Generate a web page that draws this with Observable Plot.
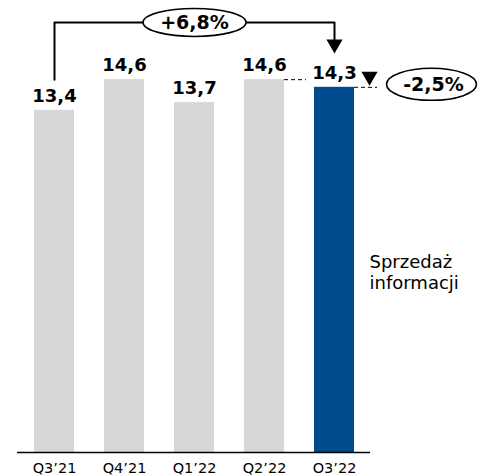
<!DOCTYPE html>
<html><head><meta charset="utf-8">
<script src="https://cdn.jsdelivr.net/npm/d3@7"></script>
<script src="https://cdn.jsdelivr.net/npm/@observablehq/plot@0.6"></script>
<style>html,body{margin:0;padding:0;background:#fff} #chart svg{display:block}</style>
</head><body><div id="chart"></div>
<script>
// ---- data ----
const quarters = ["Q3’21", "Q4’21", "Q1’22", "Q2’22", "O3’22"];
const sales = [13.4, 14.6, 13.7, 14.6, 14.3];
const highlighted = [false, false, false, false, true];
const seriesName = ["Sprzedaż\ninformacji"];
const yoyChange = ["+6,8%"];
const qoqChange = ["-2,5%"];

const table = quarters.map((q, i) => ({q, v: sales[i], hi: highlighted[i]}));
const fmt = v => v.toFixed(1).replace(".", ",");
const first = quarters[0], last = quarters[quarters.length - 1], prev = quarters[quarters.length - 2], mid = quarters[2];
const lastV = sales[sales.length - 1], prevV = sales[sales.length - 2];

// annotation levels (data units)
const yTop = 17.7;
const bracketStart = d3.max(sales);
const bracketLevel = 16.84;
const arrowCenter = 15.99;

const ellipse = (rx, ry) => ({
  draw(ctx) {
    const k = 0.5523;
    ctx.moveTo(rx, 0);
    ctx.bezierCurveTo(rx, ry * k, rx * k, ry, 0, ry);
    ctx.bezierCurveTo(-rx * k, ry, -rx, ry * k, -rx, 0);
    ctx.bezierCurveTo(-rx, -ry * k, -rx * k, -ry, 0, -ry);
    ctx.bezierCurveTo(rx * k, -ry, rx, -ry * k, rx, 0);
    ctx.closePath();
  }
});

const font = "DejaVu Sans, Verdana, sans-serif";
const K = v => () => v; // constant channel helper

const chart = Plot.plot({
  width: 478,
  height: 476,
  marginLeft: 17,
  marginRight: 108,
  marginTop: 0,
  marginBottom: 24,
  style: {fontFamily: font, background: "#fff"},
  x: {domain: quarters, paddingInner: 0.433, paddingOuter: 0.2165, axis: null},
  y: {domain: [0, yTop], axis: null},
  marks: [
    Plot.barY(table, {x: "q", y: "v", fill: d => d.hi ? "#004b8d" : "#d6d7d9"}),
    Plot.ruleY([0], {stroke: "#000", strokeWidth: 1.5}),
    // quarter labels
    Plot.text(quarters, {x: d => d, text: d => d, frameAnchor: "bottom", lineAnchor: "top", dy: 10, fontSize: 14.5, fill: "#000"}),
    // value labels
    Plot.text(table, {x: "q", y: "v", text: d => fmt(d.v), lineAnchor: "middle", dy: -14, fontSize: 18, fontWeight: "bold", fill: "#000"}),
    // bracket year-over-year
    Plot.line([
      {q: first, v: bracketStart},
      {q: first, v: bracketLevel},
      {q: last, v: bracketLevel},
      {q: last, v: arrowCenter}
    ], {x: "q", y: "v", stroke: "#000", strokeWidth: 2, curve: "linear"}),
    Plot.dot([{q: last, v: arrowCenter}], {x: "q", y: "v", symbol: "triangle", rotate: 180, r: 6, fill: "#000", stroke: "none"}),
    Plot.dot([{q: mid, v: bracketLevel}], {x: "q", y: "v", symbol: ellipse(51.5, 14), fill: "#fff", stroke: "#000", strokeWidth: 1.6}),
    Plot.text(yoyChange, {x: K(mid), y: K(bracketLevel), text: d => d, lineAnchor: "middle", fontSize: 19, fontWeight: "bold", fill: "#000"}),
    // dashed references quarter-over-quarter
    Plot.ruleY([prevV], {y: d => d, x1: K(prev), x2: K(last), insetLeft: 40, insetRight: 48, stroke: "#000", strokeWidth: 1, strokeDasharray: "4,3"}),
    Plot.ruleY([lastV], {y: d => d, x1: K(last), x2: K(last), insetLeft: 40, insetRight: -23, stroke: "#000", strokeWidth: 1, strokeDasharray: "4,3"}),
    Plot.dot([{q: last, v: lastV}], {x: "q", y: "v", dx: 35, dy: -11, symbol: "triangle", rotate: 180, r: 6, fill: "#000", stroke: "none"}),
    Plot.dot([{q: last, v: lastV}], {x: "q", y: "v", dx: 97, dy: -3, symbol: ellipse(45, 16), fill: "#fff", stroke: "#000", strokeWidth: 1.6}),
    Plot.text(qoqChange, {x: K(last), y: K(lastV), text: d => d, dx: 99, dy: -2, lineAnchor: "middle", fontSize: 19, fontWeight: "bold", fill: "#000"}),
    // series label
    Plot.text(seriesName, {x: K(last), y: K(lastV / 2), text: d => d, dx: 35, dy: 1.5, textAnchor: "start", lineAnchor: "middle", lineHeight: 1.17, fontSize: 18, fill: "#000"})
  ]
});
document.getElementById("chart").append(chart);
</script>
</body></html>
